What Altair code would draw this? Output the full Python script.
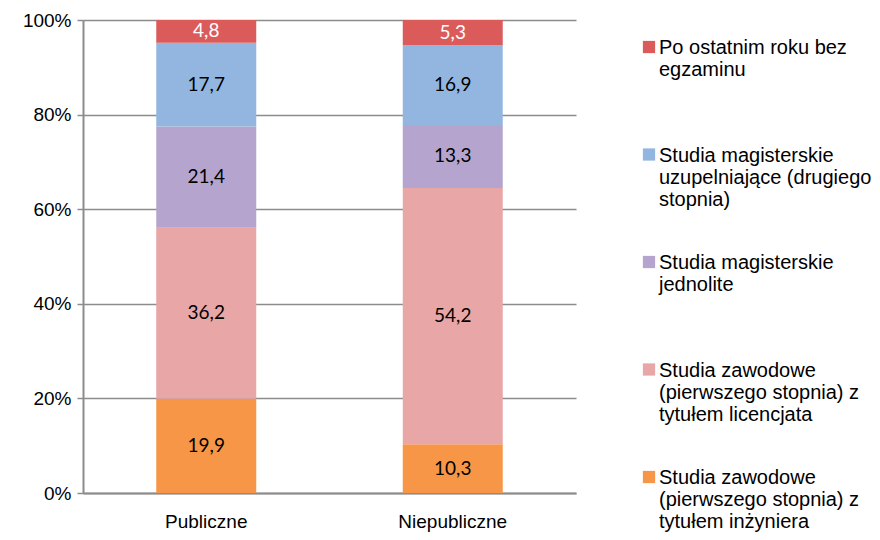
import altair as alt
import pandas as pd

categories = ["Publiczne", "Niepubliczne"]
series = [
    "Po ostatnim roku bez|egzaminu",
    "Studia magisterskie|uzupelniające (drugiego|stopnia)",
    "Studia magisterskie|jednolite",
    "Studia zawodowe|(pierwszego stopnia) z|tytułem licencjata",
    "Studia zawodowe|(pierwszego stopnia) z|tytułem inżyniera",
]
colors = ["#DB5B5B", "#93B6E0", "#B5A5CE", "#E8A6A6", "#F79646"]
publiczne = [4.8, 17.7, 21.4, 36.2, 19.9]
niepubliczne = [5.3, 16.9, 13.3, 54.2, 10.3]
y_ticks = [0, 20, 40, 60, 80, 100]

rows = []
for cat, vals in zip(categories, [publiczne, niepubliczne]):
    for i, (s, v) in enumerate(zip(series, vals)):
        rows.append({"category": cat, "series": s, "value": v, "order": len(series) - 1 - i})
df = pd.DataFrame(rows)
legend_df = pd.DataFrame({"series": series, "idx": list(range(len(series)))})

color_enc = alt.Color("series:N", scale=alt.Scale(domain=series, range=colors), legend=None)

base = alt.Chart(df).transform_stack(
    stack="value", groupby=["category"], as_=["v0", "v1"],
    sort=[alt.SortField("order", order="ascending")],
).transform_calculate(
    mid="(datum.v0 + datum.v1) / 2",
    lbl="replace(format(datum.value, '.1f'), '.', ',')",
)

x_enc = alt.X("category:N", sort=categories, title=None,
              scale=alt.Scale(paddingInner=0, paddingOuter=0),
              axis=alt.Axis(labelAngle=0, ticks=False, labelPadding=19,
                            labelFont="Liberation Sans", labelFontSize=19, labelColor="#000",
                            domainColor="#8C8C8C", domainWidth=2))

bars = base.mark_bar(size=100).encode(
    x=x_enc,
    y=alt.Y("v0:Q", title=None, scale=alt.Scale(domain=[0, 100], nice=False),
            axis=alt.Axis(values=y_ticks, labelExpr="datum.value + '%'",
                          labelFont="Liberation Sans", labelFontSize=19, labelColor="#000",
                          tickColor="#8C8C8C", tickSize=6, tickWidth=1.5,
                          gridColor="#8C8C8C", gridWidth=1.3,
                          domainColor="#8C8C8C", domainWidth=2, labelPadding=6)),
    y2="v1:Q",
    color=color_enc,
    order=alt.Order("order:Q"),
)

texts = base.mark_text(font="Lato", fontSize=19).encode(
    x=alt.X("category:N", sort=categories),
    y=alt.Y("mid:Q"),
    text="lbl:N",
    color=alt.condition(alt.datum.order == 4, alt.value("white"), alt.value("black")),
)

leg_y = alt.Y("idx:O", axis=None, scale=alt.Scale(type="point", padding=0, range=[27, 457]))
leg_sym = alt.Chart(legend_df).mark_square(size=150, opacity=1).encode(
    x=alt.value(566), y=leg_y, color=color_enc,
)
leg_txt = alt.Chart(legend_df).mark_text(
    align="left", baseline="top", dy=-9, lineBreak="|", lineHeight=22,
    font="Liberation Sans", fontSize=20, color="#000",
).encode(x=alt.value(576), y=leg_y, text="series:N")

main = alt.layer(bars, texts)
legend = alt.layer(leg_sym, leg_txt)

chart = alt.layer(main, legend).resolve_scale(y="independent").properties(
    width=493, height=473,
    autosize=alt.AutoSizeParams(type="none"),
    padding={"left": 75, "top": 12, "right": 296, "bottom": 39},
).configure_view(stroke=None)

chart.save("out.html", embed_options={"renderer": "svg", "actions": False})
